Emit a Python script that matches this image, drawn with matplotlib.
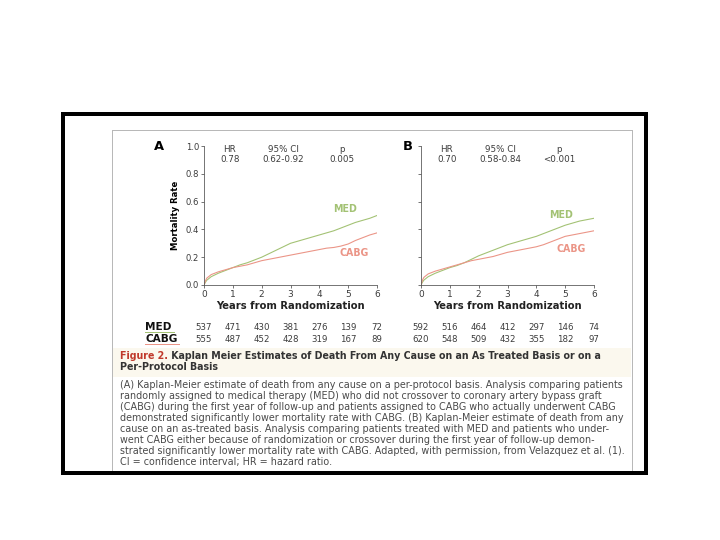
import matplotlib
matplotlib.use("Agg")
import matplotlib.pyplot as plt
import matplotlib.transforms as mtransforms
from matplotlib.patches import Rectangle
from matplotlib.lines import Line2D

# ---------------- data ----------------
years = [0, 0.05, 0.1, 0.25, 0.5, 0.75, 1, 1.25, 1.5, 1.75, 2, 2.25, 2.5, 2.75,
         3, 3.25, 3.5, 3.75, 4, 4.25, 4.5, 4.75, 5, 5.25, 5.5, 5.75, 6]
a_med = [0, 0.02, 0.035, 0.06, 0.085, 0.105, 0.125, 0.145, 0.16, 0.18, 0.2, 0.225, 0.25, 0.275,
         0.3, 0.315, 0.33, 0.345, 0.36, 0.375, 0.39, 0.41, 0.43, 0.45, 0.465, 0.48, 0.5]
a_cabg = [0, 0.03, 0.05, 0.075, 0.095, 0.11, 0.125, 0.135, 0.145, 0.16, 0.175, 0.185, 0.195, 0.205,
          0.215, 0.225, 0.235, 0.245, 0.255, 0.265, 0.27, 0.28, 0.295, 0.32, 0.34, 0.36, 0.375]
b_med = [0, 0.02, 0.035, 0.06, 0.085, 0.105, 0.125, 0.14, 0.16, 0.185, 0.21, 0.23, 0.25, 0.27,
         0.29, 0.305, 0.32, 0.335, 0.35, 0.37, 0.39, 0.41, 0.43, 0.445, 0.46, 0.47, 0.48]
b_cabg = [0, 0.035, 0.055, 0.08, 0.1, 0.115, 0.13, 0.145, 0.16, 0.175, 0.185, 0.195, 0.205, 0.22,
          0.235, 0.245, 0.255, 0.265, 0.275, 0.29, 0.31, 0.33, 0.35, 0.36, 0.37, 0.38, 0.39]

x_ticks = [0, 1, 2, 3, 4, 5, 6]
y_ticks = [0.0, 0.2, 0.4, 0.6, 0.8, 1.0]
y_tick_labels = ["0.0", "0.2", "0.4", "0.6", "0.8", "1.0"]

a_risk_med = ["537", "471", "430", "381", "276", "139", "72"]
a_risk_cabg = ["555", "487", "452", "428", "319", "167", "89"]
b_risk_med = ["592", "516", "464", "412", "297", "146", "74"]
b_risk_cabg = ["620", "548", "509", "432", "355", "182", "97"]

a_stats = [("HR", "0.78"), ("95% CI", "0.62-0.92"), ("p", "0.005")]
b_stats = [("HR", "0.70"), ("95% CI", "0.58-0.84"), ("p", "<0.001")]

caption_title = "Figure 2."
caption_head1 = " Kaplan Meier Estimates of Death From Any Cause on an As Treated Basis or on a"
caption_head2 = "Per-Protocol Basis"
caption_body = [
    "(A) Kaplan-Meier estimate of death from any cause on a per-protocol basis. Analysis comparing patients",
    "randomly assigned to medical therapy (MED) who did not crossover to coronary artery bypass graft",
    "(CABG) during the first year of follow-up and patients assigned to CABG who actually underwent CABG",
    "demonstrated significantly lower mortality rate with CABG. (B) Kaplan-Meier estimate of death from any",
    "cause on an as-treated basis. Analysis comparing patients treated with MED and patients who under-",
    "went CABG either because of randomization or crossover during the first year of follow-up demon-",
    "strated significantly lower mortality rate with CABG. Adapted, with permission, from Velazquez et al. (1).",
    "CI = confidence interval; HR = hazard ratio.",
]

MED_C = "#a3c274"
CABG_C = "#eb9587"
TXT = "#3c3c3c"

W, H = 720, 540
fig = plt.figure(figsize=(W / 72, H / 72), dpi=72)
fig.patch.set_facecolor("white")


def fx(px):
    return px / W


def fy(py):
    return 1 - py / H


# outer black frame and inner grey frame
fig.add_artist(Rectangle((fx(62.5), fy(472.5)), fx(645.5) - fx(62.5), fy(113.5) - fy(472.5),
                         transform=fig.transFigure, fill=False, ec="black", lw=4, zorder=10))
for xs_, ys_ in [([112, 112], [130, 470]), ([632, 632], [130, 470]), ([112, 632], [130, 130])]:
    fig.add_artist(Line2D([fx(v) for v in xs_], [fy(v) for v in ys_], transform=fig.transFigure,
                          color="#b8b8b8", lw=1))
# caption header band
fig.add_artist(Rectangle((fx(113), fy(377)), fx(631) - fx(113), fy(348) - fy(377),
                         transform=fig.transFigure, fc="#fbf8ee", ec="none"))


def make_axes(left_px, med, cabg, stats, risk_med, risk_cabg, letter, show_ylabels,
              med_lbl, cabg_lbl):
    ax = fig.add_axes([fx(left_px), fy(285), 173 / W, (285 - 146) / H])
    ax.plot(years, med, color=MED_C, lw=1.1)
    ax.plot(years, cabg, color=CABG_C, lw=1.1)
    ax.set_xlim(0, 6)
    ax.set_ylim(0, 1.0)
    for s in ["top", "right"]:
        ax.spines[s].set_visible(False)
    for s in ["left", "bottom"]:
        ax.spines[s].set_color("#555555")
        ax.spines[s].set_linewidth(0.8)
    ax.set_xticks(x_ticks)
    ax.set_xticklabels([str(t) for t in x_ticks], fontsize=9, color=TXT)
    ax.set_yticks(y_ticks)
    if show_ylabels:
        ax.set_yticklabels(y_tick_labels, fontsize=8.5, color=TXT)
        ax.set_ylabel("Mortality Rate", fontsize=8.5, fontweight="bold", labelpad=5,
                      family="Liberation Sans Narrow")
    else:
        ax.set_yticklabels([])
    ax.tick_params(direction="out", length=3, width=0.8, color="#555555", pad=2)
    ax.set_xlabel("Years from Randomization", fontsize=10, fontweight="bold",
                  color="#222222", labelpad=2)
    ax.patch.set_alpha(0)
    ax.text(-0.29 if show_ylabels else -0.105, 1.0, letter, transform=ax.transAxes,
            fontsize=13, fontweight="bold", ha="left", va="center", color="black")
    xs = [0.15, 0.46, 0.8]
    for (hdr, val), xx in zip(stats, xs):
        ax.text(xx, 0.975, hdr, transform=ax.transAxes, fontsize=8.8, ha="center",
                va="center", color=TXT)
        ax.text(xx, 0.9, val, transform=ax.transAxes, fontsize=8.8, ha="center",
                va="center", color=TXT)
    ax.text(med_lbl[0], med_lbl[1], "MED", color=MED_C, fontsize=9.5, fontweight="bold",
            ha="center", va="center")
    ax.text(cabg_lbl[0], cabg_lbl[1], "CABG", color=CABG_C, fontsize=9.5, fontweight="bold",
            ha="center", va="center")
    tr = mtransforms.blended_transform_factory(ax.transData, fig.transFigure)
    for xv, rm, rc in zip(x_ticks, risk_med, risk_cabg):
        ax.text(xv, fy(327.5), rm, transform=tr, fontsize=8.6, ha="center", va="center",
                color=TXT, clip_on=False)
        ax.text(xv, fy(339), rc, transform=tr, fontsize=8.6, ha="center", va="center",
                color=TXT, clip_on=False)
    return ax


make_axes(204, a_med, a_cabg, a_stats, a_risk_med, a_risk_cabg, "A", True,
          (4.9, 0.55), (5.2, 0.23))
make_axes(421, b_med, b_cabg, b_stats, b_risk_med, b_risk_cabg, "B", False,
          (4.85, 0.50), (5.2, 0.26))

# row labels
fig.text(fx(145), fy(327.5), "MED", fontsize=10.5, fontweight="bold", ha="left", va="center",
         color="#111111")
fig.text(fx(145), fy(339), "CABG", fontsize=10.5, fontweight="bold", ha="left", va="center",
         color="#111111")
fig.add_artist(Line2D([fx(145), fx(174)], [fy(332), fy(332)], transform=fig.transFigure,
                      color=MED_C, lw=1))
fig.add_artist(Line2D([fx(145), fx(179)], [fy(343.5), fy(343.5)], transform=fig.transFigure,
                      color=CABG_C, lw=1))

# caption
t1 = fig.text(fx(120), fy(356), caption_title, fontsize=9.5, fontweight="bold",
              color="#c0392b", ha="left", va="center")
fig.canvas.draw()
bb = t1.get_window_extent()
fig.text(bb.x1 / W, fy(356), caption_head1, fontsize=9.5, fontweight="bold",
         color="#333333", ha="left", va="center")
fig.text(fx(120), fy(367.5), caption_head2, fontsize=9.5, fontweight="bold",
         color="#333333", ha="left", va="center")
for i, line in enumerate(caption_body):
    fig.text(fx(120), fy(384.5 + i * 11.1), line, fontsize=9.6, color="#4a4a4a",
             ha="left", va="center")

fig.savefig("out.png", dpi=72, facecolor="white")
